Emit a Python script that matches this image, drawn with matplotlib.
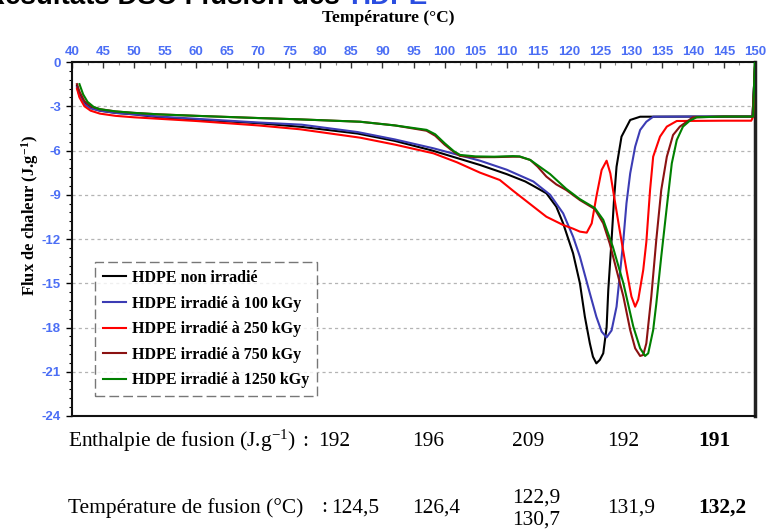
import numpy as np
import matplotlib
matplotlib.use("Agg")
import matplotlib.pyplot as plt

plt.rcParams['mathtext.fontset'] = 'custom'
plt.rcParams['mathtext.rm'] = 'Liberation Serif'
plt.rcParams['mathtext.it'] = 'Liberation Serif:italic'
plt.rcParams['mathtext.bf'] = 'Liberation Serif:bold'
plt.rcParams['axes.unicode_minus'] = False

# ---------------- data ----------------
labels = ["HDPE non irradié", "HDPE irradié à 100 kGy", "HDPE irradié à 250 kGy",
          "HDPE irradié à 750 kGy", "HDPE irradié à 1250 kGy"]
colors = ["#000000", "#3c3cb4", "#ff0000", "#8b1212", "#008000"]

t_black = [40.8, 41.2, 42, 43, 44.5, 47, 50, 54, 60, 70, 77, 86, 92, 98, 105.7, 110, 113,
           114.3, 116.4, 118.0, 119.1, 120.7, 121.8, 122.6, 123.4, 123.9, 124.45, 125.0,
           125.56, 126.1, 126.37, 126.9, 127.3, 127.7, 128.5, 129.9, 131.5, 140, 149.6, 150]
y_black = [-1.6, -2.2, -2.8, -3.1, -3.3, -3.45, -3.55, -3.75, -3.9, -4.15, -4.4, -4.85,
           -5.35, -6.0, -6.98, -7.6, -8.1, -8.4, -8.9, -9.81, -10.94, -12.97, -15.0,
           -17.27, -19.07, -19.98, -20.43, -20.2, -19.75, -18.0, -15.46, -12.07, -9.3,
           -7.1, -5.06, -3.93, -3.71, -3.7, -3.7, -0.3]

t_blue = [40.8, 41.2, 42, 43, 44.5, 47, 50, 54, 60, 70, 77, 86, 92, 98.2, 105.7, 110,
          114.3, 117, 119.1, 120.7, 121.8, 123.4, 124.45, 125.3, 126.1, 126.9, 127.7, 128.2,
          128.8, 129.3, 129.9, 130.7, 131.5, 132.5, 133.6, 140, 149.6, 150]
y_blue = [-1.7, -2.3, -2.85, -3.15, -3.3, -3.45, -3.55, -3.7, -3.85, -4.1, -4.25, -4.75,
          -5.25, -5.85, -6.69, -7.3, -8.1, -9.0, -10.26, -11.84, -13.2, -15.68, -17.27,
          -18.28, -18.67, -18.2, -16.59, -14.55, -12.07, -9.58, -7.55, -5.74, -4.61,
          -4.05, -3.71, -3.7, -3.7, -0.3]

t_red = [40.8, 41.2, 42, 43, 44.5, 47, 50, 54, 60, 70, 76.7, 86.4, 92, 98.2, 102, 105.7,
         108.9, 111.1, 116.4, 119.1, 120.7, 121.8, 122.9, 123.7, 124.45, 125.3, 126.1,
         126.7, 127.4, 128.2, 129.3, 130.1, 130.7, 131.2, 132.0, 132.5, 133.1, 133.6,
         134.7, 135.8, 137.4, 145, 149.4, 149.7, 150]
y_red = [-1.8, -2.4, -3.0, -3.3, -3.5, -3.65, -3.75, -3.85, -4.0, -4.3, -4.56, -5.13,
         -5.6, -6.19, -6.8, -7.5, -8.0, -8.75, -10.49, -11.05, -11.3, -11.5, -11.57,
         -10.94, -9.13, -7.32, -6.69, -7.55, -9.36, -11.39, -14.1, -15.9, -16.59, -16.1,
         -14.1, -12.2, -8.68, -6.42, -5.06, -4.38, -4.0, -3.98, -3.98, -3.7, -0.3]

t_750 = [40.8, 41.2, 42, 43, 44.5, 47, 50, 54, 60, 70, 76.7, 86.4, 92, 97.1, 98.5, 100,
         101.5, 102.5, 105, 108, 111, 112.1, 113.8, 115, 116.4, 118, 119.6, 121.8, 124.2,
         125.56, 126.6, 127.7, 128.8, 129.9, 130.7, 131.5, 132.0, 132.5, 133.3, 134.1,
         134.9, 135.8, 136.8, 137.9, 140, 145, 149.6, 150]
y_750 = [-1.5, -2.0, -2.65, -3.0, -3.2, -3.35, -3.45, -3.55, -3.65, -3.8, -3.89, -4.05,
         -4.3, -4.66, -5.0, -5.6, -6.1, -6.37, -6.45, -6.45, -6.42, -6.42, -6.64, -7.1,
         -7.77, -8.3, -8.68, -9.36, -9.97, -10.94, -12.3, -14.1, -15.9, -18.17, -19.41,
         -19.93, -19.86, -19.07, -15.9, -12.07, -8.68, -6.42, -4.95, -4.38, -3.75, -3.7,
         -3.7, -0.3]

t_1250 = [41.2, 41.8, 42.5, 43.5, 44.5, 47, 50, 54, 60, 70, 76.7, 86.4, 92, 97.1, 98.5,
          100, 101.5, 102.5, 105, 108, 111, 112.1, 113.8, 115, 117, 119.6, 121.8, 124.2,
          125.56, 127.1, 128.8, 130.4, 131.5, 132.3, 132.8, 133.6, 134.1, 134.9, 135.8,
          136.6, 137.4, 138.4, 139.5, 140.6, 145, 149.7, 150]
y_1250 = [-1.5, -2.2, -2.7, -3.05, -3.2, -3.35, -3.45, -3.55, -3.65, -3.8, -3.89, -4.05,
          -4.3, -4.6, -4.9, -5.5, -6.05, -6.3, -6.4, -6.42, -6.38, -6.4, -6.64, -7.0,
          -7.6, -8.6, -9.3, -9.9, -10.7, -12.52, -15.0, -17.94, -19.41, -19.93, -19.75,
          -18.17, -16.4, -13.2, -9.81, -6.87, -5.29, -4.38, -3.98, -3.75, -3.7, -3.7, 0.5]

curves_t = [t_black, t_blue, t_red, t_750, t_1250]
curves_y = [y_black, y_blue, y_red, y_750, y_1250]

x_ticks = list(range(40, 151, 5))
y_ticks = list(range(-24, 1, 3))

enth_label = "Enthalpie de fusion (J.g$^{-1}$)"
enth_values = ["192", "196", "209", "192", "191"]
tf_label = "Température de fusion (°C)"
tf_values = ["124,5", "126,4", "122,9\n130,7", "131,9", "132,2"]

# ---------------- figure ----------------
W, H = 768, 532
fig = plt.figure(figsize=(W / 100, H / 100), dpi=100)
ax = fig.add_axes([72 / W, 1 - 416 / H, 683 / W, 354 / H])

def fx(x):
    return x / W

def fy(y):
    return 1 - y / H

for t, y, c, lab in zip(curves_t, curves_y, colors, labels):
    ax.plot(t, y, color=c, lw=1.5, label=lab, zorder=3, solid_joinstyle='round')

ax.set_xlim(40, 150)
ax.set_ylim(-24, 0)

blue_txt = "#4b6ef5"
ax.xaxis.tick_top()
ax.set_xticks(x_ticks)
ax.set_xticks(np.arange(40, 150.1, 2.5), minor=True)
ax.set_yticks(y_ticks)
ax.set_yticks(np.arange(-24, 0.01, 0.6), minor=True)
ax.tick_params(axis='x', which='major', direction='in', length=4, width=1, color='#333333',
               labelsize=9.5, labelcolor=blue_txt, pad=3)
ax.tick_params(axis='x', which='minor', direction='in', length=2, width=0.8, color='#888888')
ax.tick_params(axis='y', which='major', direction='out', length=4, width=1,
               labelsize=9.5, labelcolor=blue_txt, pad=4)
ax.tick_params(axis='y', which='minor', direction='out', length=2.5, width=0.8)
for lab in ax.get_xticklabels() + ax.get_yticklabels():
    lab.set_fontweight('bold')
    lab.set_family('Liberation Sans')

ax.yaxis.grid(True, which='major', color='#b4b4b4', linestyle=(0, (2.5, 2.5)), lw=0.9)
ax.set_axisbelow(True)

for s in ['left', 'bottom', 'top']:
    ax.spines[s].set_linewidth(1.5)
    ax.spines[s].set_color('#111111')
ax.spines['right'].set_linewidth(2.5)
ax.spines['right'].set_color('#222222')

leg = ax.legend(loc='upper left', bbox_to_anchor=(0.034, 0.435), borderaxespad=0,
                frameon=True, fancybox=False, handlelength=1.4, handletextpad=0.4,
                labelspacing=0.6, borderpad=0.5,
                prop={'family': 'Liberation Serif', 'weight': 'bold', 'size': 11.5})
fr = leg.get_frame()
fr.set_linestyle((0, (7, 3)))
fr.set_edgecolor('#555555')
fr.set_linewidth(1.0)
fr.set_facecolor('white')

# axis titles
fig.text(fx(388), fy(18), "Température (°C)", ha='center', va='center',
         family='Liberation Serif', weight='bold', size=12.5)
fig.text(fx(30), fy(215), r"Flux de chaleur (J.g$^{\mathbf{-1}}$)", ha='center',
         va='center', rotation=90, family='Liberation Serif', weight='bold', size=12)

# title at the very top (cut off in the reference)
fig.text(fx(340), fy(3.5), "Résultats DSC : fusion des", ha='right', va='baseline',
         family='Liberation Sans', weight='bold', size=20, color='#000000')
fig.text(fx(350), fy(3.5), "HDPE", ha='left', va='baseline',
         family='Liberation Sans', weight='bold', size=20, color='#2a4de0')

# table below the chart
fs = 15.4
fig.text(fx(68), fy(441), enth_label, ha='left', va='center',
         family='Liberation Serif', size=fs)
fig.text(fx(302), fy(441), ":", ha='left', va='center', family='Liberation Serif', size=fs)
fig.text(fx(68), fy(508), tf_label, ha='left', va='center',
         family='Liberation Serif', size=fs)
fig.text(fx(321), fy(508), ":", ha='left', va='center', family='Liberation Serif', size=fs)
col_x = [318, 412, 512, 607, 698]
for i, (xv, ev, tv) in enumerate(zip(col_x, enth_values, tf_values)):
    wt = 'bold' if i == 4 else 'normal'
    fig.text(fx(xv), fy(441), ev, ha='left', va='center', family='Liberation Serif',
             size=fs, weight=wt)
    tx = 331 if i == 0 else xv
    if "\n" in tv:
        a, b = tv.split("\n")
        fig.text(fx(tx), fy(498), a, ha='left', va='center', family='Liberation Serif',
                 size=fs, weight=wt)
        fig.text(fx(tx), fy(520), b, ha='left', va='center', family='Liberation Serif',
                 size=fs, weight=wt)
    else:
        fig.text(fx(tx), fy(508), tv, ha='left', va='center', family='Liberation Serif',
                 size=fs, weight=wt)

fig.savefig("out.png", dpi=100)
